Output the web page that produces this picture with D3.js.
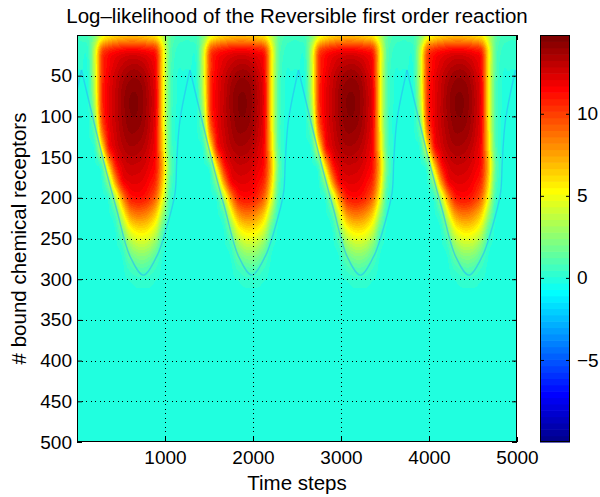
<!DOCTYPE html>
<html>
<head>
<meta charset="utf-8">
<script src="https://cdn.jsdelivr.net/npm/d3@7"></script>
<style>
  html, body { margin: 0; padding: 0; background: #fff; }
  svg text { font-family: "Liberation Sans", Arial, Helvetica, sans-serif; fill: #000; }
</style>
</head>
<body>
<div id="chart"></div>
<script>
// ---- data -------------------------------------------------------------
const titleText = "Log\u2013likelihood of the Reversible first order reaction";
const xLabel = "Time steps";
const yLabel = "# bound chemical receptors";

const xDomain = [0, 5000];
const yDomain = [0, 500];
const xTicks = [1000, 2000, 3000, 4000, 5000];
const yTicks = [50, 100, 150, 200, 250, 300, 350, 400, 450, 500];
const colorDomain = [-10, 14.8];
const colorTicks = [-5, 0, 5, 10];

// the likelihood surface repeats once per cycle of the forcing signal
const cycleStarts = [-1182, 51, 1284, 2517, 3750];   // time step where each cycle begins
const cycleLength = 1233;                            // time steps per cycle
const phaseColumns = 16;                             // grid columns per cycle
const rowDepths = [0, 20, 40, 60, 80, 100, 120, 140, 160, 180, 200, 220, 240, 260, 280, 300, 320, 340];

// log-likelihood over one cycle: one row per depth, one column per phase step
const lobeGrid = [
  [0.6, 0.9, 2.2, 4.5, 5.6, 6.2, 6.6, 6.8, 6.8, 6.6, 6.2, 5.6, 3.8, 1.6, 0.8, 0.6],
  [0.2, 0.5, 4.2, 9.5, 10.8, 11.3, 11.6, 11.8, 11.8, 11.6, 11.3, 10.5, 5.8, 1.5, 0.4, 0.2],
  [0.1, 0.3, 4.3, 10.0, 11.6, 12.4, 13.0, 13.4, 13.5, 13.2, 12.5, 11.2, 5.8, 1.4, 0.2, 0.1],
  [0.0, 0.2, 4.2, 10.2, 11.9, 12.8, 13.6, 14.1, 14.2, 13.9, 13.0, 11.5, 5.8, 1.3, 0.1, 0.0],
  [0.0, 0.1, 3.8, 10.2, 12.0, 12.9, 13.8, 14.4, 14.5, 14.1, 13.2, 11.6, 5.8, 1.3, 0.1, 0.0],
  [0.0, 0.0, 3.0, 9.8, 11.9, 12.9, 13.7, 14.3, 14.4, 14.0, 13.1, 11.5, 5.8, 1.2, 0.0, 0.0],
  [0.0, 0.0, 1.6, 8.2, 11.6, 12.7, 13.5, 14.0, 14.0, 13.7, 12.9, 11.4, 6.0, 1.2, 0.0, 0.0],
  [0.0, 0.0, 0.4, 5.0, 10.6, 12.3, 13.1, 13.5, 13.5, 13.2, 12.5, 11.2, 6.3, 1.4, 0.0, 0.0],
  [0.0, 0.0, 0.0, 1.0, 6.5, 10.8, 12.3, 12.8, 12.8, 12.6, 12.0, 11.0, 7.0, 1.8, 0.1, 0.0],
  [0.0, 0.0, 0.0, 0.1, 2.8, 7.8, 11.3, 12.1, 12.2, 12.0, 11.4, 10.3, 6.4, 1.4, 0.0, 0.0],
  [0.0, 0.0, 0.0, 0.0, 0.4, 3.5, 7.8, 10.6, 11.2, 11.1, 10.4, 8.8, 5.0, 0.8, 0.0, 0.0],
  [0.0, 0.0, 0.0, 0.0, 0.0, 1.0, 4.5, 7.6, 8.6, 8.6, 7.9, 6.3, 3.0, 0.3, 0.0, 0.0],
  [0.0, 0.0, 0.0, 0.0, 0.0, 0.1, 2.0, 4.6, 5.7, 5.9, 5.4, 4.0, 1.2, 0.0, 0.0, 0.0],
  [0.0, 0.0, 0.0, 0.0, 0.0, 0.0, 0.5, 2.4, 3.4, 3.6, 3.2, 2.0, 0.3, 0.0, 0.0, 0.0],
  [0.0, 0.0, 0.0, 0.0, 0.0, 0.0, 0.0, 0.9, 1.5, 1.7, 1.4, 0.7, 0.0, 0.0, 0.0, 0.0],
  [0.0, 0.0, 0.0, 0.0, 0.0, 0.0, 0.0, 0.1, 0.3, 0.35, 0.3, 0.1, 0.0, 0.0, 0.0, 0.0],
  [0.0, 0.0, 0.0, 0.0, 0.0, 0.0, 0.0, 0.0, 0.0, 0.0, 0.0, 0.0, 0.0, 0.0, 0.0, 0.0],
  [0.0, 0.0, 0.0, 0.0, 0.0, 0.0, 0.0, 0.0, 0.0, 0.0, 0.0, 0.0, 0.0, 0.0, 0.0, 0.0]
];

// slightly negative ridge that outlines each lobe (phase within cycle, depth)
const ridgePhase = [0, 249, 401, 552, 703, 855, 969, 1063, 1083, 1120, 1233];
const ridgeDepth = [43, 154, 215, 272, 295, 272, 236, 194, 154, 104, 43];

// ---- layout -----------------------------------------------------------
const W = 600, H = 497;
const plot = { left: 77, right: 517, top: 35, bottom: 442 };
const cbar = { left: 540, right: 570, top: 35, bottom: 442 };

const x = d3.scaleLinear().domain(xDomain).range([plot.left, plot.right]);
const y = d3.scaleLinear().domain(yDomain).range([plot.top, plot.bottom]);
const cy = d3.scaleLinear().domain(colorDomain).range([cbar.bottom, cbar.top]);

// MATLAB-style jet colormap with 64 levels
const nLevels = 64;
function jetLevel(i) {           // i in 1..64
  const f = i / nLevels;
  const c = v => Math.max(0, Math.min(1, v));
  return [c(1.5 - Math.abs(4 * f - 3)), c(1.5 - Math.abs(4 * f - 2)), c(1.5 - Math.abs(4 * f - 1))];
}
function levelOf(v) {
  const frac = (v - colorDomain[0]) / (colorDomain[1] - colorDomain[0]);
  return Math.max(1, Math.min(nLevels, Math.floor(frac * nLevels) + 1));
}

// smooth sampling of the cycle grid
function cr(p0, p1, p2, p3, t) {
  return 0.5 * (2 * p1 + (-p0 + p2) * t + (2 * p0 - 5 * p1 + 4 * p2 - p3) * t * t +
    (-p0 + 3 * p1 - 3 * p2 + p3) * t * t * t);
}
function sampleGrid(u, v) {
  const nR = rowDepths.length;
  const i = Math.floor(u), j = Math.floor(v);
  const fu = u - i, fv = v - j;
  const rowVal = r => {
    const g = lobeGrid[Math.max(0, Math.min(nR - 1, r))];
    const c = k => g[((k % phaseColumns) + phaseColumns) % phaseColumns];
    return cr(c(i - 1), c(i), c(i + 1), c(i + 2), fu);
  };
  return cr(rowVal(j - 1), rowVal(j), rowVal(j + 1), rowVal(j + 2), fv);
}
function valueAt(t, depth) {
  let c = 0;
  for (let k = 0; k < cycleStarts.length; k++) if (cycleStarts[k] <= t) c = k;
  const phase = t - cycleStarts[c];
  const u = phase / (cycleLength / phaseColumns);
  const rowStep = rowDepths[1] - rowDepths[0];
  const v = (depth - rowDepths[0]) / rowStep;
  return Math.max(-1, sampleGrid(u, v));
}

// ---- drawing ----------------------------------------------------------
const svg = d3.select("#chart").append("svg")
  .attr("width", W).attr("height", H)
  .attr("viewBox", `0 0 ${W} ${H}`);

// heat map raster
const pw = plot.right - plot.left, ph = plot.bottom - plot.top;
const canvas = document.createElement("canvas");
canvas.width = pw; canvas.height = ph;
const ctx = canvas.getContext("2d");
const img = ctx.createImageData(pw, ph);
for (let py = 0; py < ph; py++) {
  const depth = y.invert(plot.top + py + 0.5);
  for (let px = 0; px < pw; px++) {
    const t = x.invert(plot.left + px + 0.5);
    const col = jetLevel(levelOf(valueAt(t, depth)));
    const o = (py * pw + px) * 4;
    img.data[o] = Math.round(col[0] * 255);
    img.data[o + 1] = Math.round(col[1] * 255);
    img.data[o + 2] = Math.round(col[2] * 255);
    img.data[o + 3] = 255;
  }
}
ctx.putImageData(img, 0, 0);
svg.append("image")
  .attr("x", plot.left).attr("y", plot.top)
  .attr("width", pw).attr("height", ph)
  .attr("preserveAspectRatio", "none")
  .attr("href", canvas.toDataURL());

// ridge outline of each lobe
svg.append("clipPath").attr("id", "plotClip")
  .append("rect").attr("x", plot.left).attr("y", plot.top).attr("width", pw).attr("height", ph);
const ridgeLine = d3.line()
  .x(d => x(d[0])).y(d => y(d[1]))
  .curve(d3.curveCatmullRom.alpha(0.5));
svg.append("g").attr("clip-path", "url(#plotClip)")
  .selectAll("path").data(cycleStarts).join("path")
  .attr("d", s => ridgeLine(ridgePhase.map((p, k) => [s + p, ridgeDepth[k]])))
  .attr("fill", "none")
  .attr("stroke", "rgb(40,190,245)")
  .attr("stroke-width", 1.4)
  .attr("stroke-opacity", 0.65);

// dotted grid
const grid = svg.append("g").attr("stroke", "#000").attr("stroke-width", 1)
  .attr("stroke-dasharray", "1,3.5").attr("shape-rendering", "crispEdges");
grid.selectAll("line.gx").data(xTicks.filter(t => t < xDomain[1])).join("line")
  .attr("x1", d => Math.round(x(d)) + 0.5).attr("x2", d => Math.round(x(d)) + 0.5)
  .attr("y1", plot.top).attr("y2", plot.bottom);
grid.selectAll("line.gy").data(yTicks.filter(t => t < yDomain[1])).join("line")
  .attr("y1", d => Math.round(y(d)) + 0.5).attr("y2", d => Math.round(y(d)) + 0.5)
  .attr("x1", plot.left).attr("x2", plot.right);

// axes with inward ticks on all four sides
const tickFont = 19;
function styleAxis(g) {
  g.select(".domain").remove();
  g.selectAll("line").attr("stroke", "#000");
  g.selectAll("text").attr("font-size", tickFont).attr("font-family", null);
}
svg.append("g").attr("transform", `translate(0,${plot.bottom})`)
  .call(d3.axisBottom(x).tickValues(xTicks).tickSize(-5).tickPadding(9).tickFormat(d3.format("d")))
  .call(styleAxis);
svg.append("g").attr("transform", `translate(0,${plot.top})`)
  .call(d3.axisTop(x).tickValues(xTicks).tickSize(-5).tickFormat(""))
  .call(styleAxis);
svg.append("g").attr("transform", `translate(${plot.left},0)`)
  .call(d3.axisLeft(y).tickValues(yTicks).tickSize(-5).tickPadding(5).tickFormat(d3.format("d")))
  .call(styleAxis);
svg.append("g").attr("transform", `translate(${plot.right},0)`)
  .call(d3.axisRight(y).tickValues(yTicks).tickSize(-5).tickFormat(""))
  .call(styleAxis);

svg.append("rect")
  .attr("x", plot.left + 0.5).attr("y", plot.top + 0.5)
  .attr("width", pw - 1).attr("height", ph - 1)
  .attr("fill", "none").attr("stroke", "#000").attr("stroke-width", 1);

// colour bar
const levels = d3.range(1, nLevels + 1);
const step = (colorDomain[1] - colorDomain[0]) / nLevels;
const levelValue = i => colorDomain[0] + (i - 1) * step;
svg.append("g").selectAll("rect").data(levels).join("rect")
  .attr("x", cbar.left)
  .attr("width", cbar.right - cbar.left)
  .attr("y", i => cy(levelValue(i) + step))
  .attr("height", i => cy(levelValue(i)) - cy(levelValue(i) + step) + 0.6)
  .attr("fill", i => { const c = jetLevel(i); return d3.rgb(c[0] * 255, c[1] * 255, c[2] * 255); });
svg.append("g").attr("transform", `translate(${cbar.right},0)`)
  .call(d3.axisRight(cy).tickValues(colorTicks).tickSize(-4).tickPadding(7)
    .tickFormat(d => d < 0 ? "\u2212" + Math.abs(d) : String(d)))
  .call(styleAxis);
svg.append("g").attr("transform", `translate(${cbar.left},0)`)
  .call(d3.axisLeft(cy).tickValues(colorTicks).tickSize(-4).tickFormat(""))
  .call(styleAxis);
svg.append("rect")
  .attr("x", cbar.left + 0.5).attr("y", cbar.top + 0.5)
  .attr("width", cbar.right - cbar.left - 1).attr("height", cbar.bottom - cbar.top - 1)
  .attr("fill", "none").attr("stroke", "#000").attr("stroke-width", 1);

// titles
svg.append("text")
  .attr("x", (plot.left + plot.right) / 2).attr("y", 23)
  .attr("text-anchor", "middle").attr("font-size", 20.5)
  .text(titleText);
svg.append("text")
  .attr("x", (plot.left + plot.right) / 2).attr("y", 490)
  .attr("text-anchor", "middle").attr("font-size", 20.5)
  .text(xLabel);
svg.append("text")
  .attr("transform", `translate(26,${(plot.top + plot.bottom) / 2}) rotate(-90)`)
  .attr("text-anchor", "middle").attr("font-size", 20.5)
  .text(yLabel);
</script>
</body>
</html>
